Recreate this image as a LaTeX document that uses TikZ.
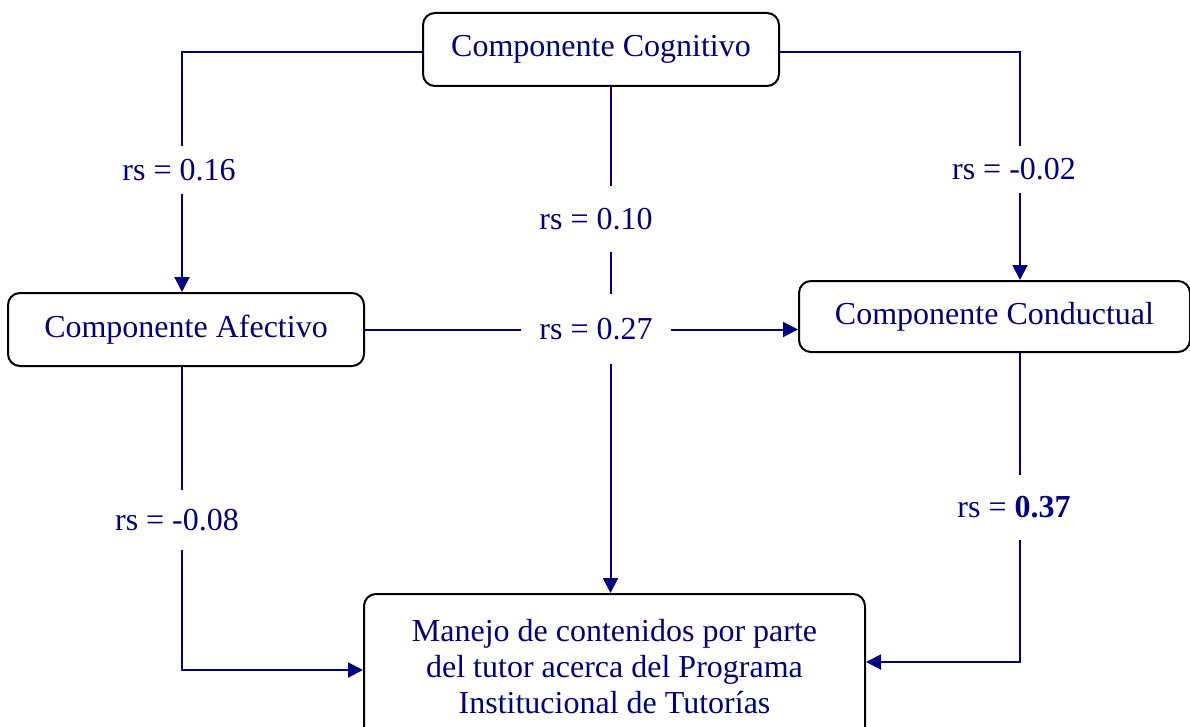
\documentclass[tikz,border=0pt]{standalone}
\usepackage{fontspec}
\setmainfont{Liberation Serif}
\usetikzlibrary{arrows.meta}
\definecolor{navyc}{RGB}{0,0,128}
\tikzset{
  box/.style={draw=black, line width=2pt, rounded corners=12pt, fill=white,
    text=navyc, font=\fontsize{32}{36}\selectfont, align=center, inner sep=0pt},
  conn/.style={draw=navyc, line width=2pt},
  arr/.style={conn, -{Triangle[length=15pt,width=15pt]}},
  lbl/.style={fill=white, text=navyc, font=\fontsize{32}{36}\selectfont, inner xsep=4pt}
}
\begin{document}
\begin{tikzpicture}[x=1pt,y=-1pt]
\useasboundingbox (0,0) rectangle (1190,727);
\clip (0,0) rectangle (1190,727);
\fill[white] (0,0) rectangle (1190,727);

\node[box, minimum width=356pt, minimum height=73pt] (cog) at (601,49.5) {Componente Cognitivo};
\node[box, minimum width=356pt, minimum height=73pt] (afe) at (186,329.5) {Componente Afectivo};
\node[box, minimum width=391pt, minimum height=71pt] (con) at (994.5,316.5) {Componente Conductual};
\node[box, minimum width=501pt, minimum height=146pt] (man) at (614.5,667)
  {Manejo de contenidos por parte\\del tutor acerca del Programa\\Institucional de Tutorías};

\coordinate (mx) at (610.5,0);
\coordinate (lx) at (182,0);
\coordinate (rx) at (1020,0);

% connectors
\draw[arr] ([yshift=-2.5pt]cog.west) -| (afe.north -| lx);
\draw[arr] ([yshift=-2.5pt]cog.east) -| (con.north -| rx);
\draw[arr] (cog.south -| mx) -- (man.north -| mx);
\draw[arr] (afe.east) -- (afe.east -| con.west);
\draw[arr] (afe.south -| lx) |- ([yshift=-3pt]man.west);
\draw[arr] (con.south -| rx) |- ([yshift=5pt]man.east);

% labels
\node[lbl, inner ysep=13pt] (l1) at (179,170) {rs = 0.16};
\node[lbl, inner ysep=13pt] (l2) at (1014,169.5) {rs = -0.02};
\node[lbl, inner ysep=22pt] (l3) at (596,219) {rs = 0.10};
\node[lbl, inner ysep=24pt, inner xsep=18pt] (l4) at (596,329) {rs = 0.27};
\node[lbl, inner ysep=19pt] (l5) at (177,520) {rs = -0.08};
\node[lbl, inner ysep=22pt] (l6) at (1014,507.5) {rs = \textbf{0.37}};
\end{tikzpicture}
\end{document}
